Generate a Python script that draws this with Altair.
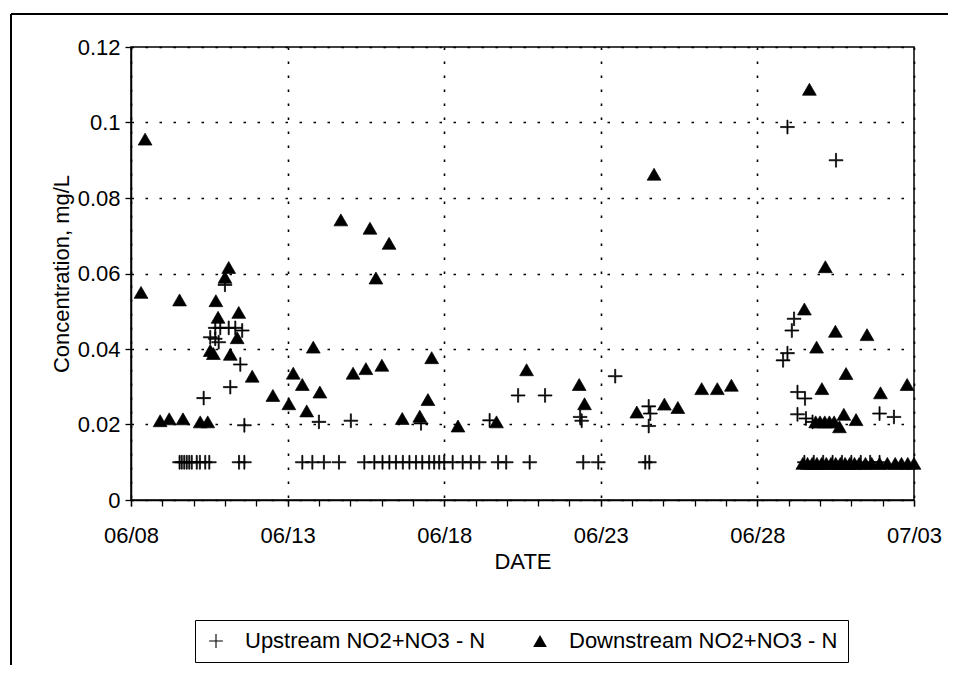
import datetime as dt
import altair as alt
import pandas as pd

# ---- data (x = day counted from June 1st = 1; July 1st = 31) ----
up_day = [10.69, 10.85, 11.12, 11.33, 11.55, 10.53, 10.69, 10.80, 11.00, 11.49, 11.17, 10.32, 11.62,
          14.00, 15.02, 17.26, 19.45, 20.36, 21.22, 22.34, 22.39, 23.46, 24.53, 24.58, 24.53,
          28.82, 28.96, 29.10, 29.17, 28.96, 29.28, 29.52, 29.28, 29.55, 29.76, 30.51, 31.90, 32.36,
          9.55, 9.62, 9.70, 9.78, 9.86, 9.94, 10.10, 10.20, 10.37, 10.50, 11.45, 11.62,
          13.47, 13.79, 14.16, 14.64, 15.45, 15.77, 16.03, 16.25, 16.46, 16.68, 16.89, 17.10,
          17.30, 17.52, 17.68, 17.84, 18.00, 18.27, 18.59, 18.85, 19.12, 19.72, 19.98, 20.73,
          22.44, 22.92, 24.42, 24.55, 29.50, 29.80, 30.10, 30.40, 30.70, 31.00, 31.30, 31.60, 31.90]
up_val = [0.0456, 0.0456, 0.0456, 0.0456, 0.0449, 0.0431, 0.0427, 0.0418, 0.0570, 0.0359, 0.0299, 0.0270, 0.0198,
          0.0207, 0.0210, 0.0203, 0.0211, 0.0277, 0.0277, 0.0220, 0.0210, 0.0328, 0.0248, 0.0229, 0.0196,
          0.0370, 0.0389, 0.0449, 0.0480, 0.0988, 0.0286, 0.0269, 0.0227, 0.0216, 0.0207, 0.0900, 0.0229, 0.0220,
          0.0100, 0.0100, 0.0100, 0.0100, 0.0100, 0.0100, 0.0100, 0.0100, 0.0100, 0.0100, 0.0100, 0.0100,
          0.0100, 0.0100, 0.0100, 0.0100, 0.0100, 0.0100, 0.0100, 0.0100, 0.0100, 0.0100, 0.0100, 0.0100,
          0.0100, 0.0100, 0.0100, 0.0100, 0.0100, 0.0100, 0.0100, 0.0100, 0.0100, 0.0100, 0.0100, 0.0100,
          0.0100, 0.0100, 0.0100, 0.0100, 0.0100, 0.0100, 0.0100, 0.0100, 0.0100, 0.0100, 0.0100, 0.0100, 0.0100]

down_day = [8.32, 8.45, 8.93, 9.22, 9.66, 9.55, 10.21, 10.45, 10.53, 10.63, 10.71, 10.78, 11.00, 11.12,
            11.17, 11.39, 11.44, 11.87, 12.53, 13.04, 13.18, 13.47, 13.61, 13.82, 14.03, 14.70, 15.09,
            15.50, 15.63, 15.82, 16.01, 16.24, 16.66, 17.22, 17.48, 17.60, 18.44, 19.67, 20.63, 22.31,
            22.48, 24.15, 24.70, 25.03, 25.46, 26.22, 26.72, 27.17, 29.50, 29.66, 29.89, 30.06, 30.17,
            30.49, 30.83, 30.76, 31.15, 31.50, 31.93, 32.78, 29.86, 30.00, 30.15, 30.30, 30.45, 30.62,
            29.45, 29.60, 29.75, 29.90, 30.05, 30.20, 30.35, 30.50, 30.65, 30.80, 30.95, 31.10, 31.25,
            31.45, 31.65, 31.90, 32.15, 32.40, 32.60, 32.80, 33.00]
down_val = [0.0550, 0.0956, 0.0210, 0.0215, 0.0215, 0.0530, 0.0207, 0.0207, 0.0396, 0.0388, 0.0528, 0.0484, 0.0590, 0.0616,
            0.0386, 0.0430, 0.0497, 0.0328, 0.0277, 0.0255, 0.0336, 0.0306, 0.0236, 0.0405, 0.0286, 0.0742, 0.0336,
            0.0348, 0.0720, 0.0588, 0.0357, 0.0680, 0.0216, 0.0222, 0.0266, 0.0377, 0.0196, 0.0207, 0.0345, 0.0306,
            0.0255, 0.0233, 0.0863, 0.0254, 0.0245, 0.0295, 0.0295, 0.0304, 0.0506, 0.1088, 0.0405, 0.0295, 0.0618,
            0.0447, 0.0335, 0.0227, 0.0213, 0.0438, 0.0284, 0.0306, 0.0207, 0.0207, 0.0207, 0.0207, 0.0207, 0.0194,
            0.0097, 0.0097, 0.0097, 0.0097, 0.0097, 0.0097, 0.0097, 0.0097, 0.0097, 0.0097, 0.0097, 0.0097, 0.0097,
            0.0097, 0.0097, 0.0097, 0.0097, 0.0097, 0.0097, 0.0097, 0.0097]

series_names = ["Upstream NO2+NO3 - N", "Downstream NO2+NO3 - N"]
major_days = [8, 13, 18, 23, 28, 33]
y_ticks = [0, 0.02, 0.04, 0.06, 0.08, 0.1, 0.12]

BASE = pd.Timestamp("2000-06-01")


def ts(d):
    return BASE + pd.to_timedelta(d - 1, unit="D")


def dt_obj(d):
    x = dt.date(2000, 6, 1) + dt.timedelta(days=d - 1)
    return alt.DateTime(year=x.year, month=x.month, date=x.day)


df = pd.concat([
    pd.DataFrame({"date": [ts(d) for d in down_day], "value": down_val, "series": series_names[1]}),
    pd.DataFrame({"date": [ts(d) for d in up_day], "value": up_val, "series": series_names[0]}),
], ignore_index=True)

FONT = "Liberation Sans"
W, H = 783, 453
PLUS = "M-1,-0.08H-0.08V-1H0.08V-0.08H1V0.08H0.08V1H-0.08V0.08H-1Z"

x_scale = alt.Scale(domain=[dt_obj(8), dt_obj(33)])

points = alt.Chart(df).mark_point(
    filled=True, color="black", stroke="black", strokeWidth=0.7, opacity=1, size=190
).encode(
    x=alt.X("date:T", scale=x_scale,
            axis=alt.Axis(values=[dt_obj(d) for d in major_days], format="%m/%d",
                          title="DATE", grid=True, tickSize=6, labelPadding=19, labelFlush=False,
                          titleY=61, titleBaseline="middle", orient="bottom")),
    y=alt.Y("value:Q", scale=alt.Scale(domain=[0, 0.12], nice=False),
            axis=alt.Axis(values=y_ticks, format=".2~f", title="Concentration, mg/L",
                          grid=True, tickSize=6, labelPadding=5, labelFlush=False,
                          titleX=-70, titleY=H / 2, titleBaseline="middle", titleAlign="center")),
    shape=alt.Shape("series:N",
                    scale=alt.Scale(domain=series_names, range=[PLUS, "triangle-up"]),
                    legend=alt.Legend(title=None, orient="none", legendX=64, legendY=573,
                                      direction="horizontal", strokeColor="black", padding=10,
                                      columnPadding=43, labelOffset=18, symbolSize=190,
                                      symbolFillColor="black", symbolStrokeColor="black",
                                      symbolStrokeWidth=0.9, labelFontSize=22, labelFont=FONT,
                                      labelColor="black", labelLimit=400)),
)

minor = alt.Chart(df).mark_point(opacity=0).encode(
    x=alt.X("date:T", scale=x_scale,
            axis=alt.Axis(values=[dt_obj(d) for d in range(8, 34)], labels=False, grid=False,
                          domain=False, ticks=True, tickSize=6, title=None, orient="bottom")),
)

frame_df = pd.DataFrame({"k": [0]})
frame_top = alt.Chart(frame_df).mark_rule(color="black", strokeWidth=2).encode(
    x=alt.value(-120), x2=alt.value(W + 40), y=alt.value(-33))
frame_left = alt.Chart(frame_df).mark_rule(color="black", strokeWidth=2).encode(
    x=alt.value(-120), y=alt.value(-33), y2=alt.value(H + 170))

chart = alt.layer(points, minor, frame_top, frame_left).resolve_axis(x="independent").properties(
    width=W, height=H,
    autosize=alt.AutoSizeParams(type="none"),
    padding={"left": 123, "top": 39, "right": 34, "bottom": 165},
).configure(font=FONT).configure_view(
    stroke="black", strokeWidth=1.5
).configure_axis(
    domainColor="black", domainWidth=1.5, tickColor="black", tickWidth=1.3,
    labelColor="black", titleColor="black", labelFontSize=22, titleFontSize=22,
    labelFont=FONT, titleFont=FONT, titleFontWeight="normal",
    gridColor="black", gridDash=[2.5, 11.5], gridWidth=1.6, gridOpacity=1,
)

chart.save("out.html", embed_options={"renderer": "svg", "actions": False})
